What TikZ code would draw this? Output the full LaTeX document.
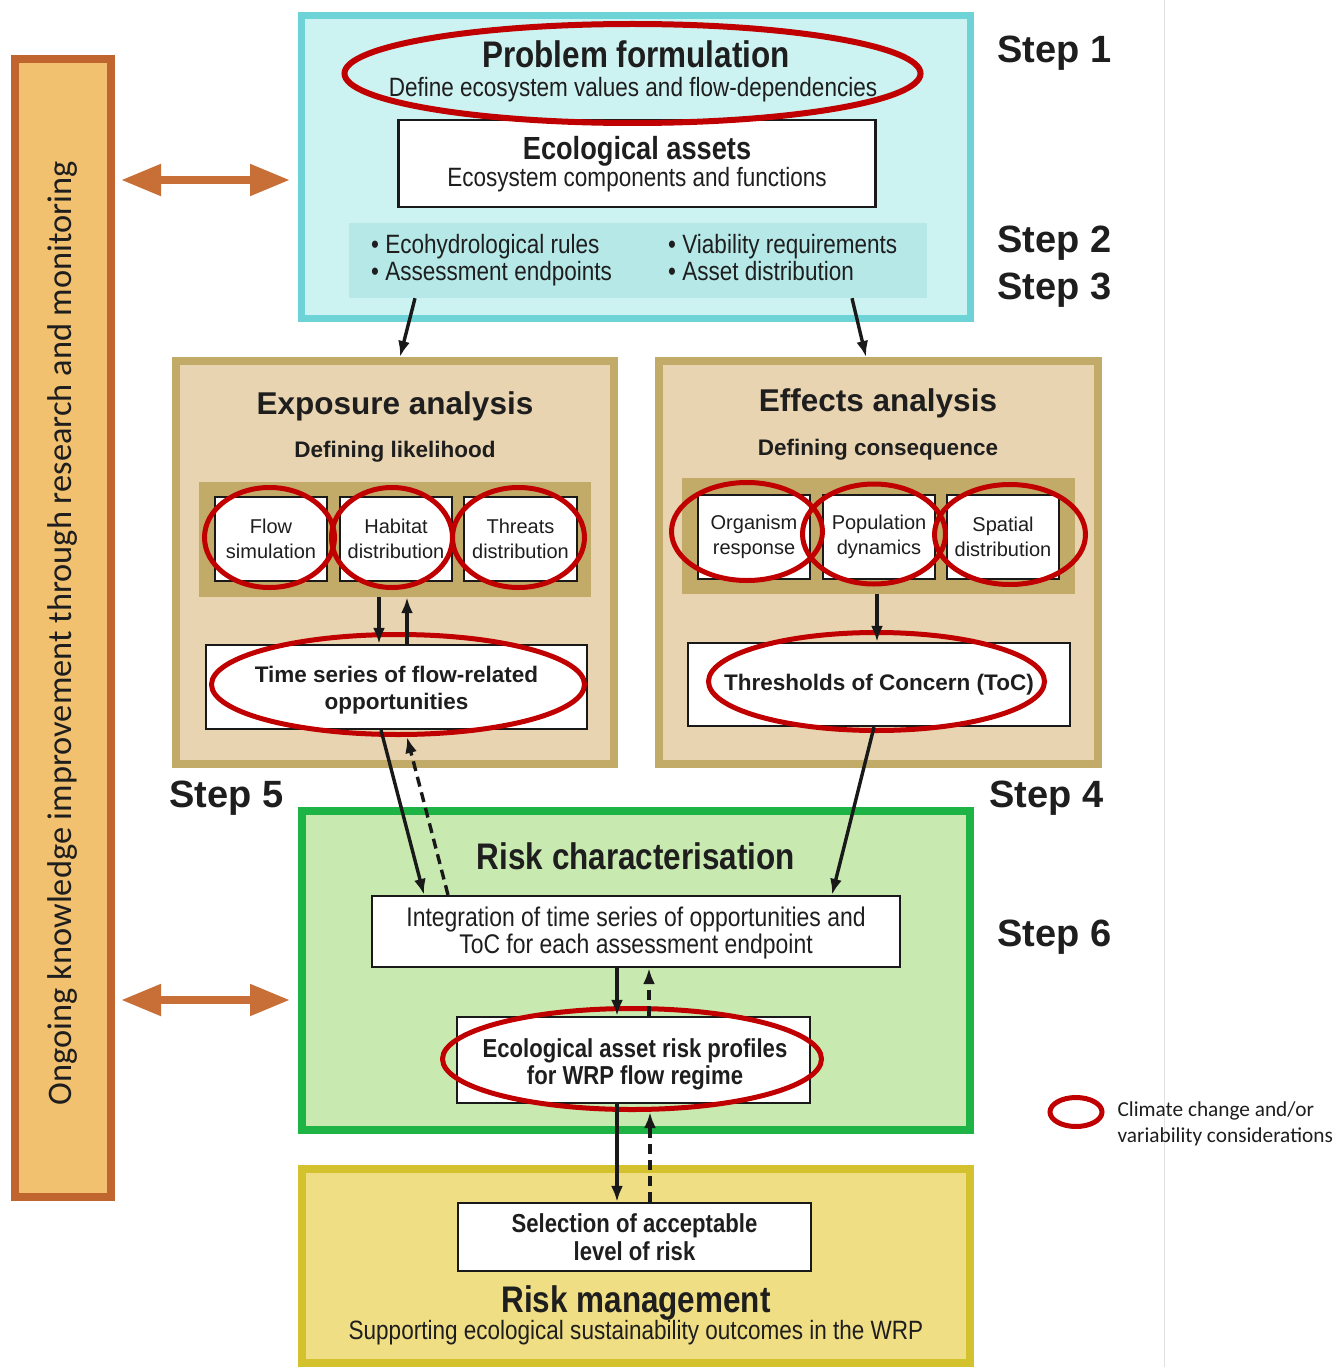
\documentclass[tikz,border=0pt]{standalone}
\usepackage{fontspec}
\setmainfont{Liberation Sans}
\newfontfamily\condf[FakeStretch=0.85]{Liberation Sans}
\newfontfamily\calf{Carlito}
\usetikzlibrary{arrows.meta,shapes.geometric,calc}
\definecolor{txt}{HTML}{1E1E1E}
\definecolor{cyanB}{HTML}{6DD3D6}
\definecolor{cyanF}{HTML}{CCF2F1}
\definecolor{cyanP}{HTML}{B6E8E8}
\definecolor{tanB}{HTML}{C2AA68}
\definecolor{tanF}{HTML}{E8D4B0}
\definecolor{greenB}{HTML}{1EB445}
\definecolor{greenF}{HTML}{C8EAB0}
\definecolor{yelB}{HTML}{D4C12E}
\definecolor{yelF}{HTML}{F0DE84}
\definecolor{ringred}{HTML}{C00000}
\definecolor{orB}{HTML}{C0652E}
\definecolor{orF}{HTML}{F2C170}
\definecolor{orA}{HTML}{C86F38}
\newcommand\myfs[2]{\fontsize{#1}{#2}\selectfont}
\begin{document}
\begin{tikzpicture}[x=1pt,y=-1pt,
  every node/.style={text=txt},
  panel/.style={rectangle, line width=8pt, inner sep=0pt},
  wbox/.style={rectangle, draw=black!90, line width=2.2pt, fill=white, inner sep=0pt},
  ring/.style={ellipse, draw=ringred, line width=5pt, inner sep=0pt},
  conn/.style={draw=black!90, line width=3.4pt, -{Latex[length=16pt,width=12pt]}},
  dconn/.style={conn, dash pattern=on 10pt off 6pt},
  oarrow/.style={draw=orA, line width=8pt, {Triangle[length=40pt,width=30pt]}-{Triangle[length=40pt,width=30pt]}},
  stplbl/.style={anchor=west, font=\bfseries\myfs{38}{40}},
  bigcond/.style={font=\condf\bfseries\myfs{37}{40}},
  subcond/.style={font=\condf\myfs{26.5}{28}},
  bulitem/.style={anchor=base west, inner sep=0pt, font=\condf\myfs{26.5}{27}},
  bigreg/.style={font=\bfseries\myfs{31.5}{34}},
  midreg/.style={font=\bfseries\myfs{22.5}{25}},
  smalltxt/.style={font=\myfs{20}{25}, align=center},
]
\useasboundingbox (0,0) rectangle (1337,1367);
\fill[white] (0,0) rectangle (1337,1367);
\draw[black!12, line width=1pt] (1164,0) -- (1164,1367);

% left orange bar
\node[panel, draw=orB, fill=orF, minimum width=96pt, minimum height=1138pt] (ob) at (63,628) {};
\node[rotate=90, font=\calf\myfs{34.4}{40}] (obt) at (63,633) {Ongoing knowledge improvement through research and monitoring};

% Step 1-3 panel
\node[panel, line width=7pt, draw=cyanB, fill=cyanF, minimum width=669pt, minimum height=303pt] (pf) at (636,167) {};
\node[wbox, minimum width=477pt, minimum height=87pt] (ea) at (637,163.5) {};
\node[fill=cyanP, inner sep=0pt, minimum width=578pt, minimum height=75pt] (bp) at (638,260.5) {};
\node[bigcond] (pft) at (636,54) {Problem formulation};
\node[subcond] (pfs) at (633,90) {Define ecosystem values and flow-dependencies};
\node[font=\condf\bfseries\myfs{32}{34}] (eat) at (637,151) {Ecological assets};
\node[subcond] (eas) at (637,180) {Ecosystem components and functions};
\node[bulitem] (b1) at (371,253) {\textbullet\ Ecohydrological rules};
\node[bulitem] (b2) at (371,280) {\textbullet\ Assessment endpoints};
\node[bulitem] (b3) at (668,253) {\textbullet\ Viability requirements};
\node[bulitem] (b4) at (668,280) {\textbullet\ Asset distribution};

% step labels
\node[stplbl] (s1) at (994,53) {Step 1};
\node[stplbl] (s2) at (994,243) {Step 2};
\node[stplbl] (s3) at (994,290) {Step 3};
\node[stplbl] (s5) at (166,798) {Step 5};
\node[stplbl] (s4) at (986,798) {Step 4};
\node[stplbl] (s6) at (994,937) {Step 6};

% exposure analysis
\node[panel, draw=tanB, fill=tanF, minimum width=438pt, minimum height=403pt] (ex) at (395,562.5) {};
\node[bigreg] (ext) at (395,406) {Exposure analysis};
\node[midreg] (exs) at (395,452) {Defining likelihood};
\node[fill=tanB, inner sep=0pt, minimum width=392pt, minimum height=115pt] (sl) at (395,539.5) {};
\node[wbox, minimum width=112pt, minimum height=84pt, smalltxt] (fs) at (271,539) {Flow\\simulation};
\node[wbox, minimum width=112pt, minimum height=84pt, smalltxt] (hd) at (396,539) {Habitat\\distribution};
\node[wbox, minimum width=113pt, minimum height=84pt, smalltxt] (td) at (520.5,539) {Threats\\distribution};
\node[wbox, minimum width=381pt, minimum height=84pt] (ts) at (396.5,687) {};
\node[font=\bfseries\myfs{22.5}{27}, align=center] (tst) at (396.5,690) {Time series of flow-related\\opportunities};

% effects analysis
\node[panel, draw=tanB, fill=tanF, minimum width=439pt, minimum height=403pt] (ef) at (878.5,562.5) {};
\node[bigreg] (eft) at (878,403) {Effects analysis};
\node[midreg] (efs) at (878,450) {Defining consequence};
\node[fill=tanB, inner sep=0pt, minimum width=393pt, minimum height=116pt] (sr) at (878.5,536) {};
\node[wbox, minimum width=112pt, minimum height=84pt, smalltxt] (or) at (754,537) {Organism\\response};
\node[wbox, minimum width=112pt, minimum height=84pt, smalltxt] (pd) at (879,537) {Population\\dynamics};
\node[wbox, minimum width=112pt, minimum height=84pt, smalltxt] (sd) at (1003,537) {Spatial\\distribution};
\node[wbox, minimum width=382pt, minimum height=83pt, midreg] (toc) at (879,684.5) {Thresholds of Concern (ToC)};

% risk characterisation
\node[panel, draw=greenB, fill=greenF, minimum width=668pt, minimum height=319pt] (rc) at (636,970.5) {};
\node[bigcond] (rct) at (636,856) {Risk characterisation};
\node[wbox, minimum width=528pt, minimum height=71pt] (ig) at (636,931.5) {};
\node[font=\condf\myfs{27}{27}, align=center] (igt) at (636,933.5) {Integration of time series of opportunities and\\ToC for each assessment endpoint};
\node[wbox, minimum width=353pt, minimum height=86pt] (rp) at (633.5,1060) {};
\node[font=\condf\bfseries\myfs{26}{27}, align=center] (rpt) at (635,1064.5) {Ecological asset risk profiles\\for WRP flow regime};

% risk management
\node[panel, draw=yelB, fill=yelF, minimum width=668pt, minimum height=194pt] (rm) at (636,1266) {};
\node[wbox, minimum width=353pt, minimum height=68pt, font=\condf\bfseries\myfs{26}{28}, align=center] (sel) at (634.5,1237) {Selection of acceptable\\level of risk};
\node[bigcond] (rmt) at (636,1303) {Risk management};
\node[subcond] (rms) at (636,1333) {Supporting ecological sustainability outcomes in the WRP};

% red rings
\node[ring, line width=6pt, minimum width=576pt, minimum height=99pt] (pfr) at (632.5,73.5) {};
\node[ring, minimum width=130pt, minimum height=100pt] (fsr) at (269.5,537.5) {};
\node[ring, minimum width=121pt, minimum height=100pt] (hdr) at (392,537.5) {};
\node[ring, minimum width=132pt, minimum height=100pt] (tdr) at (518.5,537.5) {};
\node[ring, minimum width=151pt, minimum height=98pt] (orr) at (747,531.5) {};
\node[ring, minimum width=143pt, minimum height=100pt] (pdr) at (874,534) {};
\node[ring, minimum width=151pt, minimum height=100pt] (sdr) at (1010,534.5) {};
\node[ring, minimum width=373pt, minimum height=100pt] (tsr) at (398,684.5) {};
\node[ring, minimum width=336pt, minimum height=98pt] (tocr) at (876.5,681.5) {};
\node[ring, minimum width=379pt, minimum height=101pt] (rpr) at (632,1059) {};

% connectors
\draw[conn] (bp.south -| 415,0) -- (ex.north -| 400,0);
\draw[conn] (bp.south -| 852,0) -- (ef.north -| 866,0);
\draw[conn] (sl.south -| 379,0) -- (ts.north -| 379,0);
\draw[conn] (ts.north -| 407,0) -- (sl.south -| 407,0);
\draw[conn] (sr.south -| 877,0) -- (toc.north -| 877,0);
\draw[conn] (ts.south -| 381,0) -- (ig.north -| 424,0);
\draw[dconn] (ig.north -| 448,0) -- (tsr.south -| 407,0);
\draw[conn] (toc.south -| 874,0) -- (ig.north -| 832,0);
\draw[conn] (ig.south -| 617,0) -- (rp.north -| 617,0);
\draw[dconn] (rp.north -| 649,0) -- (ig.south -| 649,0);
\draw[conn] (rp.south -| 617,0) -- (sel.north -| 617,0);
\draw[dconn] (sel.north -| 650,0) -- (rpr.south -| 650,0);

% orange double arrows
\draw[oarrow, shorten <=6pt, shorten >=8pt] (ob.east |- 0,180) -- (pf.west |- 0,180);
\draw[oarrow, shorten <=6pt, shorten >=8pt] (ob.east |- 0,1000) -- (rc.west |- 0,1000);

% legend
\node[ring, minimum width=52pt, minimum height=29pt] (lg) at (1076,1112) {};
\node[anchor=west, font=\calf\myfs{21.3}{26}, align=left] (lgt) at (1114,1124) {Climate change and/or\\variability considerations};
\end{tikzpicture}
\end{document}
